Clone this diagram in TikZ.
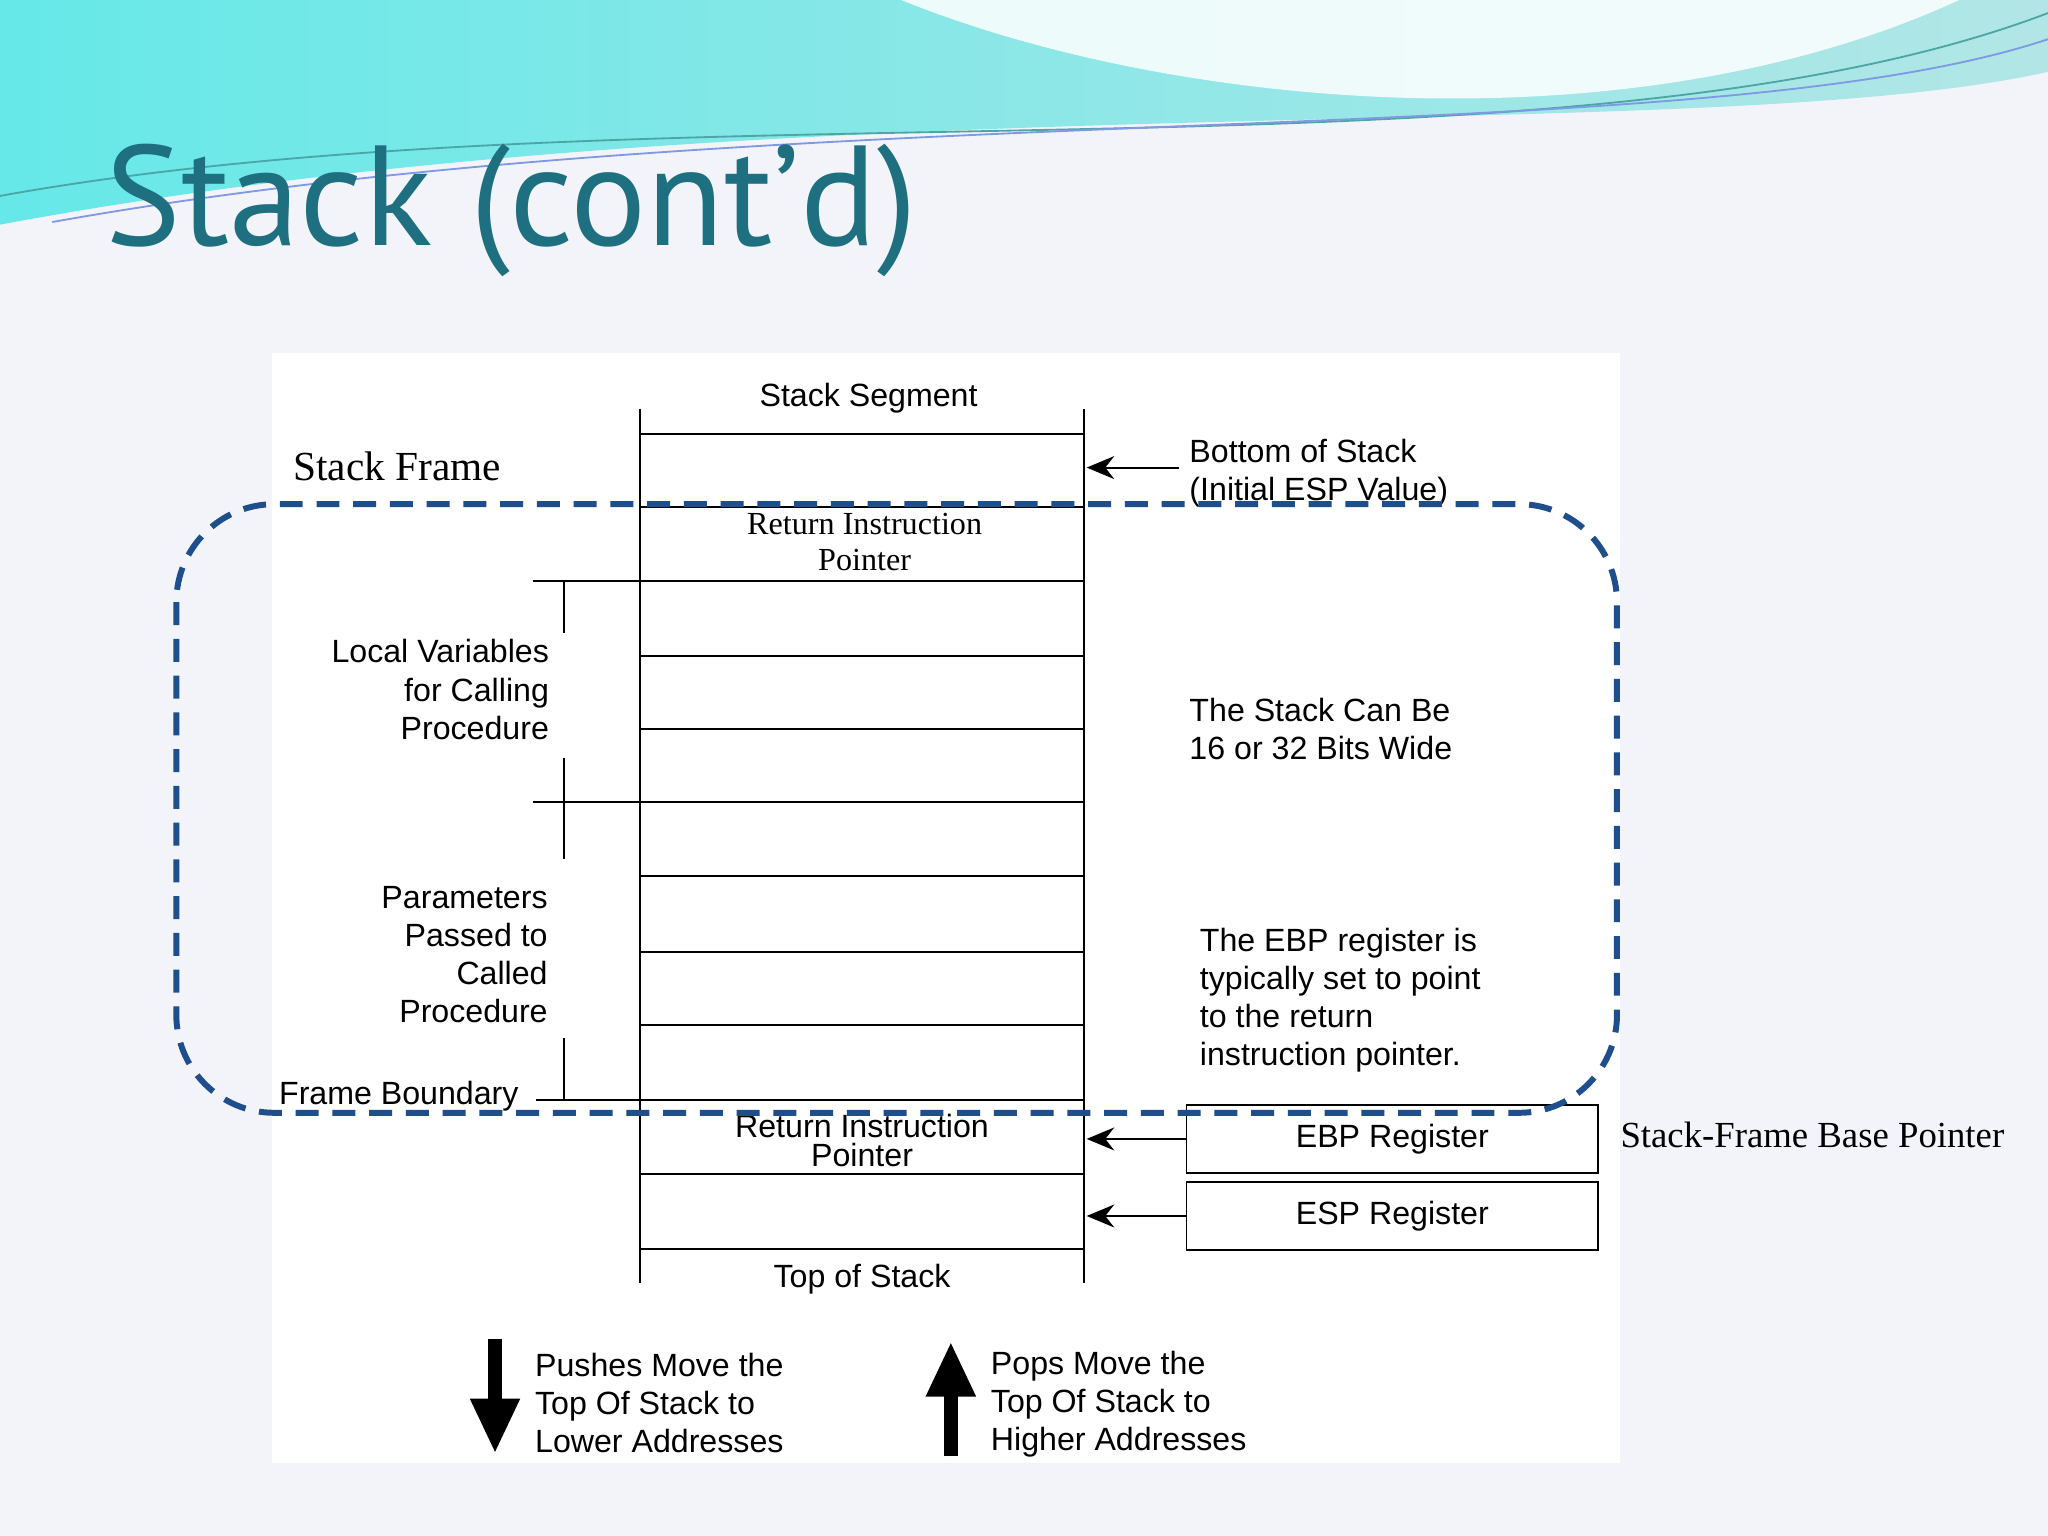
\documentclass[tikz,border=0pt]{standalone}
\usepackage{fontspec}
\setmainfont{Liberation Sans}
\newfontfamily\titlefont{PT Sans}
\newfontfamily\serifnote{Liberation Serif}
\usetikzlibrary{arrows.meta,positioning}
\definecolor{titleteal}{HTML}{1E6F80}
\definecolor{framedash}{HTML}{1F4E8C}
\definecolor{pagebg}{HTML}{F3F4FA}
\tikzset{
  lbl/.style={font=\fontsize{7}{8.3}\selectfont, inner sep=0pt, align=left},
  slbl/.style={font=\serifnote\fontsize{7}{8}\selectfont, inner sep=0pt, align=center},
  reg/.style={draw=black, thin, minimum width=3.15cm, minimum height=0.52cm, font=\fontsize{7}{8}\selectfont},
  ptr/.style={-{Stealth[length=6pt,width=5pt]}, thin}
}
\begin{document}
\begin{tikzpicture}[x=0.01cm,y=-0.01cm]
	\useasboundingbox (0,0) rectangle (1568,1176);
	\fill[pagebg] (0,0) rectangle (1568,1176);

	% top waves
	\shade[left color=cyan!70!teal!60, right color=cyan!35!teal!30] (0,0) -- (1568,0) -- (1568,55) .. controls (1300,115) and (600,60) .. (0,172) -- cycle;
	\fill[white, opacity=0.85] (690,0) .. controls (900,85) and (1250,115) .. (1500,0) -- cycle;
	\draw[teal!70, thin] (0,150) .. controls (500,60) and (1200,150) .. (1568,10);
	\draw[teal!40!blue!50, thin] (40,170) .. controls (600,70) and (1300,120) .. (1568,30);

	% title
	\node[font=\titlefont\fontsize{31}{36}\selectfont, text=titleteal, anchor=base west, inner sep=0pt] (title) at (80,188) {Stack (cont’d)};

	% white panel
	\fill[white] (208,270) rectangle (1240,1120);

	% stack column
	\draw[thin] (490,313) -- (490,982);
	\draw[thin] (830,313) -- (830,982);
	\foreach \y in {332,388,445,502,558,614,671,729,785,842,899,956}
		\draw[thin] (490,\y) -- (830,\y);

	\node[lbl] (seg) at (665,305) {Stack Segment};
	\node[slbl] (rip1) at (662,415) {Return Instruction\\Pointer};
	\node[lbl, align=center] (rip2) at (660,873) {Return Instruction\\[-2pt]Pointer};
	\node[lbl] (top) at (660,979) {Top of Stack};

	\node[lbl, anchor=west] (bottom) at (910,362) {Bottom of Stack\\(Initial ESP Value)};
	\coordinate (c1) at (832,358);
	\draw[ptr] (903,358) -- (c1);

	% brackets on the left
	\draw[thin] (408,445) -- (490,445);
	\draw[thin] (408,614) -- (490,614);
	\draw[thin] (410,842) -- (490,842);
	\draw[thin] (432,445) -- (432,485);
	\draw[thin] (432,580) -- (432,658);
	\draw[thin] (432,795) -- (432,842);

	\node[lbl, align=right, anchor=east] (locals) at (421,528) {Local Variables\\for Calling\\Procedure};
	\node[lbl, align=right, anchor=east] (params) at (420,731) {Parameters\\Passed to\\Called\\Procedure};
	\node[lbl, anchor=west] (fb) at (213,839) {Frame Boundary};

	% registers
	\node[reg] (ebp) at (1066,872) {EBP Register};
	\node[reg] (esp) at (1066,931) {ESP Register};
	\coordinate (c2) at (832,872);
	\coordinate (c3) at (832,931);
	\draw[ptr] (ebp.west) -- (c2);
	\draw[ptr] (esp.west) -- (c3);

	\node[lbl, anchor=west] (wide) at (910,558) {The Stack Can Be\\16 or 32 Bits Wide};
	\node[lbl, anchor=west] (ebpnote) at (918,766) {The EBP register is\\typically set to point\\to the return\\instruction pointer.};

	\node[font=\serifnote\fontsize{8}{9}\selectfont, anchor=west, inner sep=0pt] (sfbp) at (1240,869) {Stack-Frame Base Pointer};
	\node[font=\serifnote\fontsize{9}{10}\selectfont, anchor=west, inner sep=0pt] (sf) at (224,357) {Stack Frame};

	% stack frame outline
	\draw[framedash, line width=1.3pt, dash pattern=on 5pt off 3pt, rounded corners=0.75cm] (135,386) rectangle (1238,852);

	% push / pop arrows
	\coordinate (d1) at (379,1025);
	\coordinate (d2) at (379,1113);
	\coordinate (u1) at (728,1115);
	\coordinate (u2) at (728,1027);
	\draw[line width=3pt, -{Triangle[length=12pt,width=10pt]}] (d1) -- (d2);
	\draw[line width=3pt, -{Triangle[length=12pt,width=10pt]}] (u1) -- (u2);
	\node[lbl, anchor=west] (push) at (409,1074) {Pushes Move the\\Top Of Stack to\\Lower Addresses};
	\node[lbl, anchor=west] (pop) at (758,1075) {Pops Move the\\Top Of Stack to\\Higher Addresses};
\end{tikzpicture}
\end{document}
